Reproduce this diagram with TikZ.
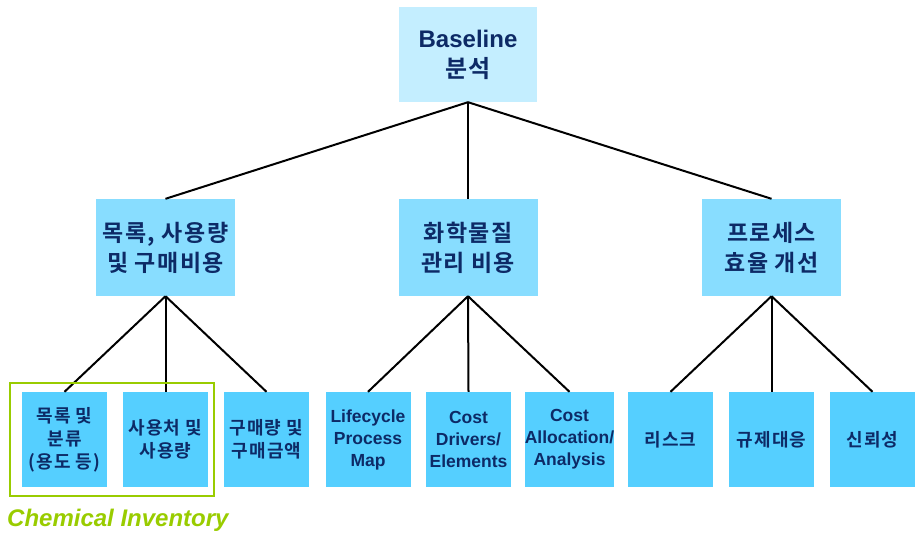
\documentclass[tikz,border=0pt]{standalone}
\usepackage{fontspec}
\setmainfont{Liberation Sans}
\newfontfamily\kr{Noto Sans CJK KR}[BoldFont={* Bold}, LetterSpace=6]
\usepackage{tikz}
\usetikzlibrary{arrows.meta, calc}
\definecolor{navy}{HTML}{0D2A66}
\definecolor{topfill}{HTML}{C4EEFF}
\definecolor{midfill}{HTML}{88DDFF}
\definecolor{lowfill}{HTML}{55CFFF}
\definecolor{invgreen}{HTML}{99CC00}
\tikzset{
  top box/.style={
    fill=topfill,
    minimum width=138pt,
    minimum height=95pt,
    inner sep=0pt,
    align=center,
    text=navy,
    font=\bfseries\fontsize{24}{30}\selectfont
  },
  mid box/.style={
    fill=midfill,
    minimum width=139pt,
    minimum height=97pt,
    inner sep=0pt,
    align=center,
    text=navy,
    font=\kr\bfseries\fontsize{23}{30}\selectfont
  },
  low box/.style={
    fill=lowfill,
    minimum width=85pt,
    minimum height=95pt,
    inner sep=0pt,
    align=center,
    text=navy,
    font=\kr\bfseries\fontsize{18}{23}\selectfont
  },
  low latin/.style={
    low box,
    font=\bfseries\fontsize{17.5}{22}\selectfont
  },
  link/.style={
    draw=black,
    line width=2pt
  }
}

\begin{document}
\begin{tikzpicture}[x=1pt, y=-1pt]
    \useasboundingbox (0, 0) rectangle (915, 535);

    % 최상위
    \node[top box] (base) at (468, 54.5)
      {Baseline\\{\kr\bfseries 분석}};

    % 중간 단계
    \node[mid box] (inv) at (165.5, 247.5) {목록, 사용량\\ 및 구매비용};
    \node[mid box] (chem) at (468, 247.5) {화학물질\\관리 비용};
    \node[mid box] (proc) at (771.5, 247.5) {프로세스\\효율 개선};

    % 하위 단계
    \node[low box] (list) at (64.5, 439.5) {목록 및\\분류\\(용도 등)};
    \node[low box] (use) at (165.5, 439.5) {사용처 및\\사용량};
    \node[low box] (buy) at (266.5, 439.5) {구매량 및\\구매금액};
    \node[low latin] (life) at (368, 439.5) {Lifecycle\\Process\\Map};
    \node[low latin] (drv) at (468.5, 439.5) {Cost\\Drivers/\\Elements};
    \node[low latin] (alloc) at (569.5, 439.5) {Cost\\Allocation/\\Analysis};
    \node[low box] (risk) at (670.5, 439.5) {리스크};
    \node[low box] (reg) at (771.5, 439.5) {규제대응};
    \node[low box] (rel) at (872.5, 439.5) {신뢰성};

    % 연결선
    \foreach \m in {inv, chem, proc} {
      \draw[link] (base.south) -- (\m.north);
    }
    \foreach \m/\l in {inv/list, inv/use, inv/buy, chem/life, chem/drv, chem/alloc, proc/risk, proc/reg, proc/rel} {
      \draw[link] (\m.south) -- (\l.north);
    }

    % Chemical Inventory 묶음
    \draw[invgreen, line width=2pt] (9.5, 382.5) rectangle (213.5, 495.5);
    \node[anchor=west, text=invgreen, inner sep=0pt,
      font=\bfseries\itshape\fontsize{24}{26}\selectfont] (chemlabel) at (7, 520) {Chemical Inventory};

\end{tikzpicture}
\end{document}
